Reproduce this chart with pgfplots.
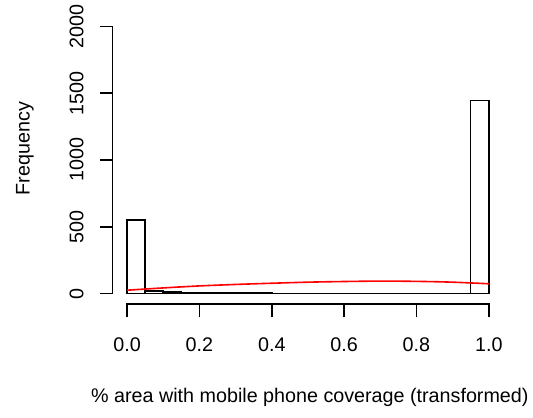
\documentclass[border=0pt]{standalone}
\usepackage{fontspec}
\setmainfont{Liberation Sans}
\usepackage{pgfplots}
\pgfplotsset{compat=1.18}
\begin{document}
\begin{tikzpicture}
\begin{axis}[
  scale only axis, width=293.1pt, height=216.5pt,
  xmin=-0.04, xmax=1.04, ymin=-80, ymax=2080,
  axis x line*=bottom, axis y line*=left,
  axis line style={draw=none},
  tick align=outside, major tick length=9.75pt,
  tick style={black, line width=1.2pt},
  xtick={0,0.2,0.4,0.6,0.8,1},
  xticklabels={0.0,0.2,0.4,0.6,0.8,1.0},
  ytick={0,500,1000,1500,2000},
  yticklabels={0,500,1000,1500,2000},
  tick label style={font=\fontsize{14.8}{17}\selectfont},
  xticklabel style={anchor=base}, xticklabel shift=25.8pt,
  yticklabel style={rotate=90, anchor=base}, yticklabel shift=12.3pt,
  xlabel={\% area with mobile phone coverage (transformed)},
  ylabel={Frequency},
  every axis x label/.style={at={(axis description cs:0.5049,-0.3214)}, anchor=center, font=\fontsize{14.8}{17}\selectfont},
  every axis y label/.style={at={(axis description cs:-0.2244,0.5393)}, anchor=center, rotate=90, font=\fontsize{14.8}{17}\selectfont},
  clip=false,
]
\coordinate (sw) at (rel axis cs:0,0);
\draw[line width=1.2pt, line cap=rect] (axis cs:0,-80) -- (axis cs:1,-80);
\draw[line width=1.2pt, line cap=rect] (axis cs:-0.04,0) -- (axis cs:-0.04,2000);
\addplot[ybar interval, draw=black, fill=none, line width=1.2pt] coordinates {
  (0,551) (0.05,18) (0.1,12) (0.15,6) (0.2,5) (0.25,4) (0.3,3) (0.35,3)
  (0.4,0) (0.45,0) (0.5,0) (0.55,0) (0.6,0) (0.65,0) (0.7,0) (0.75,0)
  (0.8,0) (0.85,0) (0.9,0) (0.95,1444) (1.0,1444)
};
\addplot[red, line width=1.2pt, smooth, mark=none] coordinates {
  (0,25) (0.1,42) (0.2,57) (0.3,68) (0.4,77) (0.5,85) (0.6,90)
  (0.7,93) (0.8,91) (0.9,85) (1.0,73)
};
\end{axis}
\path ([shift={(-84.525pt,-84.975pt)}]sw) rectangle ([shift={(315.225pt,227.025pt)}]sw);
\end{tikzpicture}
\end{document}
